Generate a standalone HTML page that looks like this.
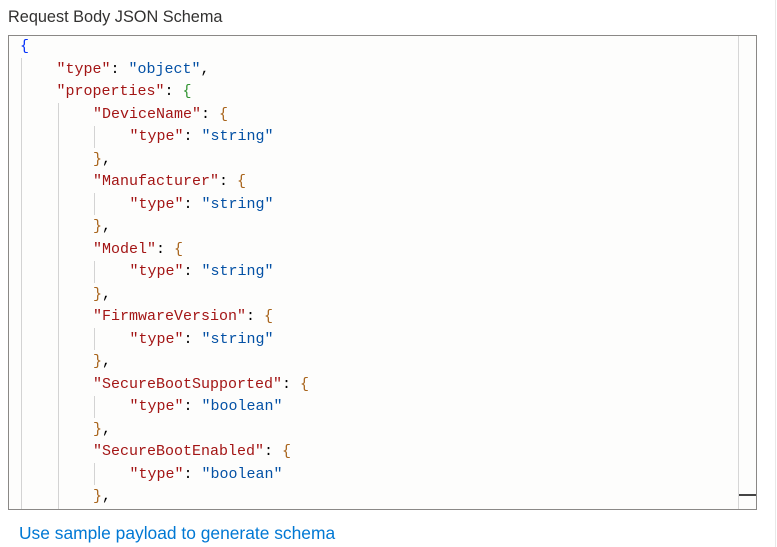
<!DOCTYPE html>
<html><head><style>
body{margin:0;width:777px;height:547px;background:#fff;position:relative;overflow:hidden;font-family:"Liberation Sans",sans-serif}
.t{position:absolute;left:8px;top:8px;font-size:16.3px;color:#323130}
.box{position:absolute;left:8px;top:35px;width:747px;height:473px;border:1px solid #8a8886;background:#fdfdfc;overflow:hidden}
.sb{position:absolute;left:729px;top:0;width:1px;height:473px;background:#d6d6d6}
.dash{position:absolute;left:730px;top:458px;width:17px;height:2px;background:#444}
.l{position:absolute;font-family:"Liberation Mono",monospace;font-size:15px;white-space:pre;line-height:18px;color:#000}
.k{color:#a31515}.v{color:#0451a5}.b1{color:#0431fa}.b2{color:#319331}.b3{color:#a8641b}
.g{position:absolute;width:1px;background:#d3d3d3}
.link{position:absolute;left:19px;top:523px;font-size:17.4px;color:#0078d4}
.edge{position:absolute;left:775px;top:0;width:1px;height:547px;background:#e8e8e8}
</style></head><body>
<div class="t">Request Body JSON Schema</div>
<div class="box">
<div class="g" style="left:12px;top:22px;height:451px"></div>
<div class="g" style="left:49px;top:67px;height:406px"></div>
<div class="g" style="left:85px;top:90px;height:22px"></div>
<div class="g" style="left:85px;top:157px;height:22px"></div>
<div class="g" style="left:85px;top:225px;height:22px"></div>
<div class="g" style="left:85px;top:292px;height:22px"></div>
<div class="g" style="left:85px;top:360px;height:22px"></div>
<div class="g" style="left:85px;top:427px;height:22px"></div>
<div class="sb"></div><div class="dash"></div>
</div>
<div id="c"></div>
<div class="link">Use sample payload to generate schema</div>
<div class="edge"></div>
<script>
var L=[
[0,'<span class="b1">{</span>'],
[1,'<span class="k">"type"</span>: <span class="v">"object"</span>,'],
[1,'<span class="k">"properties"</span>: <span class="b2">{</span>']];
var P=[["DeviceName","string"],["Manufacturer","string"],["Model","string"],["FirmwareVersion","string"],["SecureBootSupported","boolean"],["SecureBootEnabled","boolean"]];
P.forEach(function(p){L.push([2,'<span class="k">"'+p[0]+'"</span>: <span class="b3">{</span>']);L.push([3,'<span class="k">"type"</span>: <span class="v">"'+p[1]+'"</span>']);L.push([2,'<span class="b3">}</span>,']);});
var h='';L.forEach(function(x,i){h+='<div class="l" style="left:'+(20+x[0]*36.5)+'px;top:'+(38+i*22.5)+'px">'+x[1]+'</div>';});
document.getElementById('c').innerHTML=h;
</script>
</body></html>
